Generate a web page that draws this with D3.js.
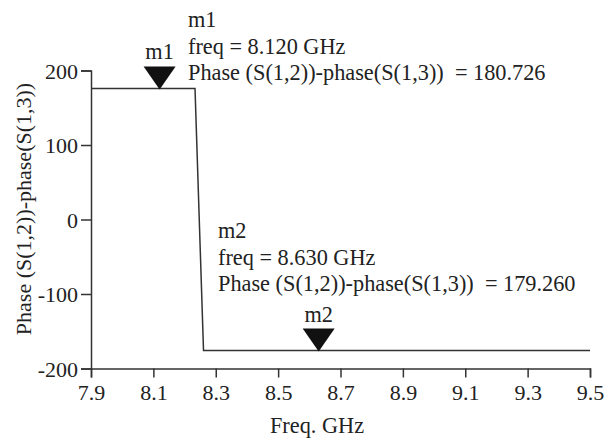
<!DOCTYPE html>
<html>
<head>
<meta charset="utf-8">
<script src="https://cdn.jsdelivr.net/npm/d3@7"></script>
<style>
  html, body { margin: 0; padding: 0; background: #fff; }
  svg text { font-family: "Liberation Serif", "Times New Roman", serif; fill: #222; white-space: pre; }
</style>
</head>
<body>
<svg id="chart" width="613" height="443"></svg>
<script>
// ---- data ----
const freqs = [7.9, 8.2335, 8.2608, 9.5];
const phaseDiff = [176, 176, -176, -176];
const xTicks = [7.9, 8.1, 8.3, 8.5, 8.7, 8.9, 9.1, 9.3, 9.5];
const yTicks = [200, 100, 0, -100, -200];
const markerNames = ["m1", "m2"];
const markerFreqs = [8.12, 8.63];
const markerValues = [176, -176];
const markerReadouts = [180.726, 179.260];
const xTitle = "Freq. GHz";
const yTitle = "Phase (S(1,2))-phase(S(1,3))";

// ---- layout ----
const svg = d3.select("#chart");
const x = d3.scaleLinear().domain([7.9, 9.5]).range([91, 590]);
const y = d3.scaleLinear().domain([-200, 200]).range([368.5, 70.5]);
const ink = "#333";
const fs = 22;
const fsAnn = 22.3;
const serif = "Liberation Serif, Times New Roman, serif";

// axes
const xAxis = svg.append("g").attr("transform", `translate(0,${y(-200)})`)
  .call(d3.axisBottom(x).tickValues(xTicks).tickSize(9).tickPadding(6).tickFormat(d => d.toFixed(1)));
const yAxis = svg.append("g").attr("transform", `translate(${x(7.9)},0)`)
  .call(d3.axisLeft(y).tickValues(yTicks).tickSize(10).tickPadding(3).tickFormat(d => String(d)));
[xAxis, yAxis].forEach(g => {
  g.attr("font-family", serif).attr("font-size", fs);
  g.select(".domain").attr("stroke", ink).attr("stroke-width", 1.5);
  g.selectAll(".tick line").attr("stroke", ink).attr("stroke-width", 1.5);
  g.selectAll(".tick text").attr("font-size", fs).attr("fill", "#222")
    .attr("font-family", serif);
});
yAxis.selectAll(".tick text").attr("dy", "0.35em");
xAxis.selectAll(".tick text").attr("dy", "0.75em");

// titles
svg.append("text").attr("x", 317).attr("y", 433).attr("text-anchor", "middle")
  .attr("font-size", fsAnn).text(xTitle);
svg.append("text").attr("transform", "translate(31,209) rotate(-90)")
  .attr("text-anchor", "middle").attr("font-size", fs).text(yTitle);

// trace
const pts = freqs.map((f, i) => [f, phaseDiff[i]]);
svg.append("path").datum(pts)
  .attr("fill", "none").attr("stroke", ink).attr("stroke-width", 1.5)
  .attr("d", d3.line().x(d => x(d[0])).y(d => y(d[1])));

// markers
const tri = (cx, ty) => `M${cx - 16},${ty - 23} L${cx + 16},${ty - 23} L${cx},${ty} Z`;
const markerTextPos = [[188, 27], [218, 238]];
markerNames.forEach((name, i) => {
  const cx = x(markerFreqs[i]);
  const ty = y(markerValues[i]) + 1;
  svg.append("path").attr("d", tri(cx, ty)).attr("fill", "#111");
  svg.append("text").attr("x", cx).attr("y", ty - 30).attr("text-anchor", "middle")
    .attr("font-size", fsAnn).text(name);
  const [tx, by] = markerTextPos[i];
  const lines = [
    name,
    `freq = ${markerFreqs[i].toFixed(3)} GHz`,
    `${yTitle}  = ${markerReadouts[i].toFixed(3)}`
  ];
  lines.forEach((t, j) => {
    svg.append("text").attr("x", tx).attr("y", by + j * 26.5)
      .attr("font-size", fsAnn).text(t);
  });
});
</script>
</body>
</html>
